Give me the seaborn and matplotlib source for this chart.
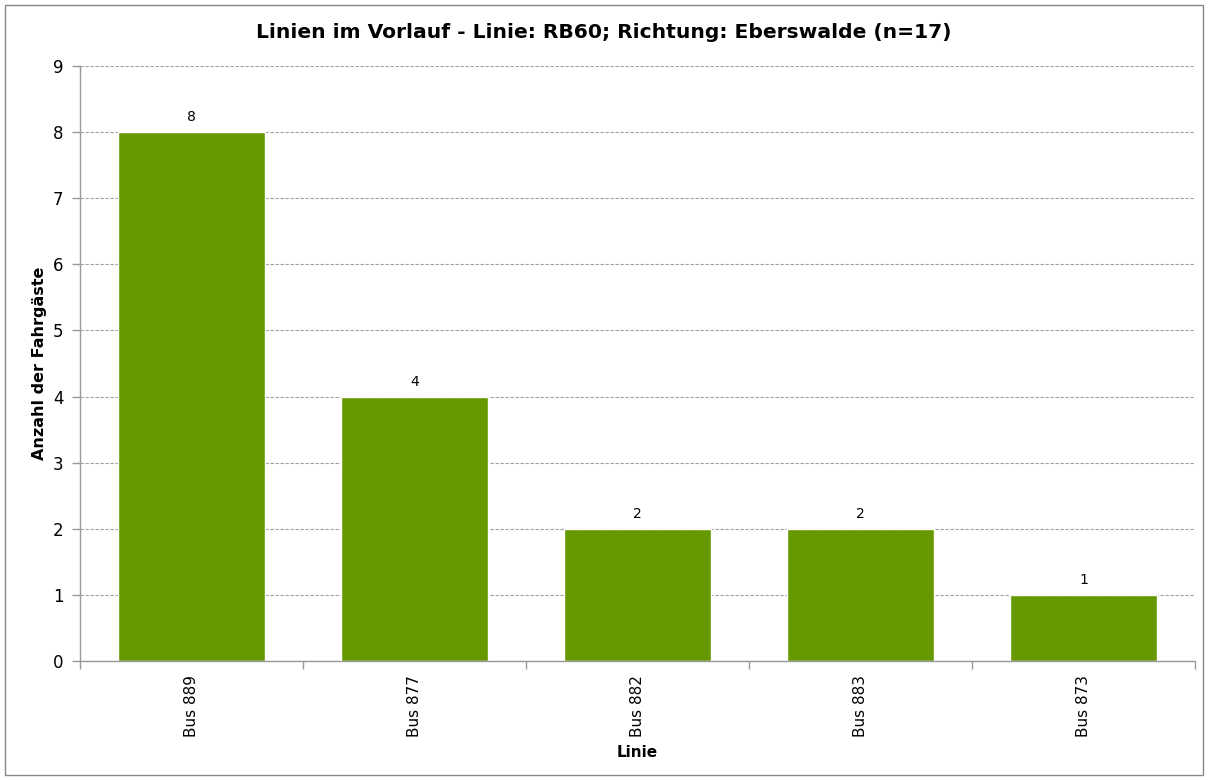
import matplotlib.pyplot as plt
import pandas as pd
import seaborn as sns
from matplotlib.patches import Rectangle

linien = ["Bus 889", "Bus 877", "Bus 882", "Bus 883", "Bus 873"]
anzahl = [8, 4, 2, 2, 1]

df = pd.DataFrame({"Linie": linien, "Anzahl": anzahl})

sns.set_style("white", {"xtick.bottom": True, "ytick.left": True,
                        "text.color": "black", "axes.labelcolor": "black",
                        "xtick.color": "black", "ytick.color": "black"})
plt.rcParams["font.family"] = ["DejaVu Sans"]

fig = plt.figure(figsize=(12.08, 7.8), dpi=100)
ax = fig.add_axes([80 / 1208, 1 - 661 / 780, (1195 - 80) / 1208, (661 - 66) / 780])

sns.barplot(data=df, x="Linie", y="Anzahl", color="#669900", saturation=1,
            width=0.66, ax=ax)

for i, v in enumerate(anzahl):
    ax.text(i, v + 0.12, str(v), ha="center", va="bottom", fontsize=10, color="black")

ax.set_xlim(-0.5, len(linien) - 0.5)
ax.set_ylim(0, 9)
ax.set_yticks(range(0, 10))
ax.yaxis.grid(True, linestyle=(0, (3, 1.5)), color="#a0a0a0", linewidth=0.8)
ax.set_axisbelow(True)

# ticks on the category boundaries
ax.set_xticks([i - 0.5 for i in range(len(linien) + 1)], minor=False)
ax.set_xticklabels([""] * (len(linien) + 1))
ax.set_xticks(range(len(linien)), minor=True)
ax.set_xticklabels(linien, minor=True, rotation=90, fontsize=11)
ax.tick_params(axis="x", which="minor", length=0, pad=10, labelcolor="black")
ax.tick_params(axis="x", which="major", length=6, width=1, color="#999999", direction="out")
ax.tick_params(axis="y", length=6, width=1, color="#999999", direction="out",
               labelsize=12, pad=6, labelcolor="black")

for side in ["top", "right"]:
    ax.spines[side].set_visible(False)
for side in ["left", "bottom"]:
    ax.spines[side].set_color("#999999")
    ax.spines[side].set_linewidth(1)

ax.set_xlabel("Linie", fontsize=11, fontweight="bold", labelpad=6, color="black")
ax.set_ylabel("Anzahl der Fahrgäste", fontsize=11.5, fontweight="bold", labelpad=4,
              color="black")
fig.suptitle("Linien im Vorlauf - Linie: RB60; Richtung: Eberswalde (n=17)",
             fontsize=14.6, fontweight="bold", y=1 - 33 / 780, va="center",
             color="black")

fig.patches.append(Rectangle((5 / 1208, 5 / 780), 1 - 10 / 1208, 1 - 10 / 780,
                             transform=fig.transFigure, fill=False,
                             edgecolor="#888888", linewidth=1))

fig.savefig("out.png", dpi=100)
